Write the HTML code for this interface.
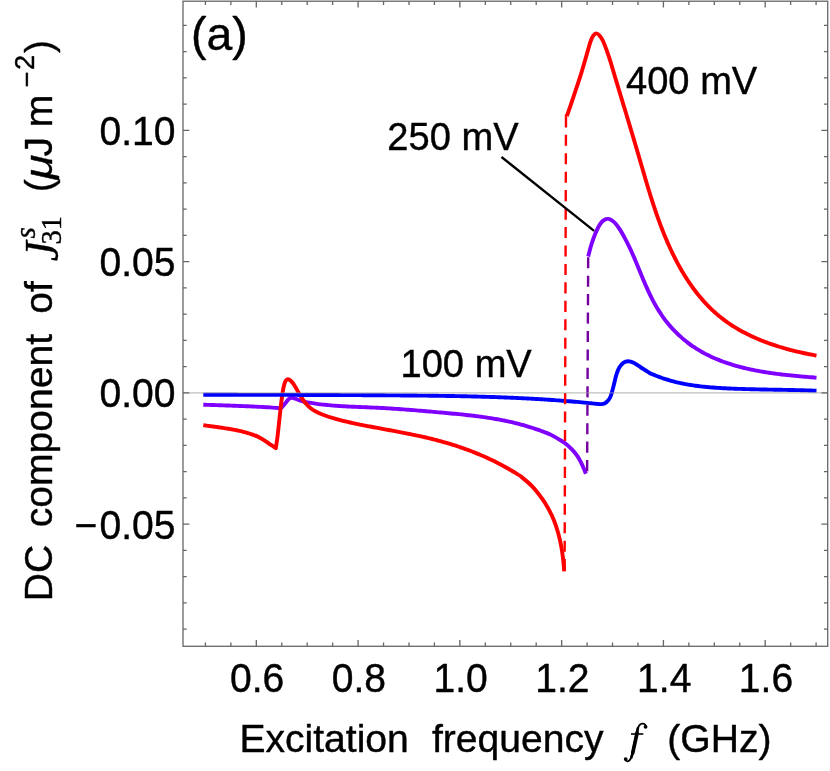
<!DOCTYPE html>
<html><head><meta charset="utf-8"><title>chart</title>
<style>html,body{margin:0;padding:0;background:#fff;}svg{display:block;}text{font-family:"Liberation Sans",sans-serif;fill:#000;stroke:#000;stroke-width:0.4px;stroke-linejoin:round;}.se{font-family:"Liberation Serif",serif;}</style></head><body>
<svg width="830" height="771" viewBox="0 0 830 771">
<rect width="830" height="771" fill="#fff"/>
<g style="will-change:transform">
<path d="M203.30 404.70 C203.73 404.71 205.01 404.76 205.87 404.78 C206.72 404.81 207.58 404.84 208.43 404.87 C209.29 404.90 210.14 404.92 211.00 404.95 C211.85 404.98 212.71 405.01 213.56 405.04 C214.42 405.06 215.28 405.09 216.13 405.12 C216.99 405.15 217.84 405.18 218.70 405.21 C219.55 405.23 220.41 405.26 221.26 405.29 C222.12 405.32 222.97 405.35 223.83 405.38 C224.68 405.41 225.54 405.44 226.40 405.47 C227.25 405.50 228.11 405.53 228.96 405.56 C229.82 405.59 230.67 405.62 231.53 405.65 C232.38 405.68 233.24 405.71 234.09 405.74 C234.95 405.77 235.80 405.80 236.66 405.84 C237.51 405.87 238.37 405.90 239.22 405.93 C240.08 405.97 240.94 406.00 241.79 406.04 C242.65 406.07 243.50 406.10 244.36 406.14 C245.21 406.18 246.07 406.21 246.92 406.25 C247.78 406.28 248.63 406.32 249.49 406.36 C250.34 406.40 251.20 406.43 252.05 406.47 C252.91 406.51 253.76 406.55 254.62 406.59 C255.47 406.63 256.33 406.67 257.18 406.71 C258.04 406.76 258.89 406.80 259.74 406.84 C260.60 406.88 261.45 406.93 262.31 406.97 C263.16 407.02 264.02 407.06 264.87 407.11 C265.73 407.16 266.58 407.20 267.44 407.25 C268.29 407.30 268.24 407.28 270.00 407.40 C271.76 407.52 276.08 407.97 278.00 408.00 C279.92 408.03 280.22 408.47 281.50 407.60 C282.78 406.73 284.53 404.20 285.70 402.80 C286.87 401.40 287.55 400.05 288.50 399.20 C289.45 398.35 290.40 397.83 291.40 397.70 C292.40 397.57 293.15 397.97 294.50 398.40 C295.85 398.83 297.07 399.58 299.50 400.30 C301.93 401.02 305.52 402.02 309.10 402.70 C312.68 403.38 318.60 404.07 321.00 404.40 C323.40 404.73 322.65 404.59 323.48 404.68 C324.31 404.76 325.13 404.85 325.96 404.93 C326.79 405.01 327.61 405.09 328.44 405.17 C329.27 405.25 330.10 405.32 330.93 405.39 C331.75 405.46 332.58 405.53 333.41 405.59 C334.24 405.66 335.07 405.72 335.90 405.78 C336.73 405.84 337.56 405.89 338.39 405.95 C339.22 406.00 340.05 406.06 340.88 406.11 C341.71 406.16 342.54 406.21 343.38 406.25 C344.21 406.30 345.04 406.35 345.87 406.39 C346.70 406.44 347.54 406.48 348.37 406.52 C349.20 406.56 350.04 406.60 350.87 406.64 C351.70 406.68 352.54 406.71 353.37 406.75 C354.20 406.79 355.04 406.82 355.87 406.86 C356.71 406.89 357.54 406.93 358.38 406.96 C359.21 407.00 360.05 407.03 360.88 407.06 C361.72 407.10 362.55 407.13 363.39 407.16 C364.22 407.20 365.06 407.23 365.90 407.26 C366.73 407.30 367.57 407.33 368.40 407.37 C369.24 407.40 370.08 407.43 370.91 407.47 C371.75 407.51 372.59 407.54 373.42 407.58 C374.26 407.61 375.10 407.65 375.94 407.69 C376.77 407.73 377.61 407.77 378.45 407.81 C379.29 407.85 380.12 407.89 380.96 407.94 C381.80 407.98 382.64 408.03 383.47 408.07 C384.31 408.12 385.15 408.17 385.99 408.22 C386.82 408.26 387.66 408.31 388.50 408.37 C389.34 408.42 390.18 408.47 391.02 408.52 C391.85 408.58 392.69 408.63 393.53 408.69 C394.37 408.74 395.21 408.80 396.04 408.85 C396.88 408.91 397.72 408.97 398.56 409.03 C399.40 409.09 400.24 409.15 401.07 409.21 C401.91 409.27 402.75 409.33 403.59 409.40 C404.43 409.46 405.27 409.52 406.10 409.59 C406.94 409.65 407.78 409.72 408.62 409.78 C409.46 409.85 410.29 409.91 411.13 409.98 C411.97 410.05 412.81 410.11 413.64 410.18 C414.48 410.25 415.32 410.32 416.16 410.39 C416.99 410.46 417.83 410.53 418.67 410.60 C419.51 410.67 420.34 410.74 421.18 410.81 C422.02 410.88 422.85 410.95 423.69 411.02 C424.53 411.09 425.37 411.17 426.20 411.24 C427.04 411.31 427.87 411.38 428.71 411.46 C429.55 411.53 430.38 411.60 431.22 411.67 C432.05 411.75 432.89 411.82 433.73 411.89 C434.56 411.97 435.40 412.04 436.23 412.11 C437.07 412.19 437.90 412.26 438.73 412.33 C439.57 412.41 440.40 412.48 441.24 412.56 C442.07 412.63 442.91 412.70 443.74 412.78 C444.57 412.85 445.41 412.93 446.24 413.00 C447.07 413.08 447.91 413.15 448.74 413.23 C449.57 413.30 450.40 413.38 451.23 413.46 C452.07 413.53 452.90 413.61 453.73 413.69 C454.56 413.77 455.39 413.85 456.22 413.93 C457.05 414.01 457.88 414.09 458.71 414.17 C459.54 414.26 460.37 414.34 461.20 414.42 C462.03 414.51 462.86 414.59 463.69 414.68 C464.52 414.77 465.35 414.86 466.17 414.95 C467.00 415.04 467.83 415.13 468.66 415.22 C469.48 415.31 470.31 415.41 471.14 415.50 C471.96 415.60 472.79 415.70 473.61 415.80 C474.44 415.90 475.26 416.00 476.09 416.10 C476.91 416.21 477.74 416.31 478.56 416.42 C479.39 416.52 480.21 416.63 481.03 416.75 C481.85 416.86 482.68 416.97 483.50 417.09 C484.32 417.20 485.14 417.32 485.96 417.44 C486.78 417.56 487.60 417.68 488.42 417.81 C489.24 417.93 490.06 418.06 490.88 418.19 C491.70 418.32 492.52 418.46 493.34 418.59 C494.16 418.73 494.97 418.87 495.79 419.01 C496.61 419.15 497.42 419.30 498.24 419.44 C499.05 419.59 499.87 419.74 500.68 419.90 C501.50 420.05 502.31 420.21 503.12 420.37 C503.94 420.53 504.75 420.69 505.56 420.86 C506.38 421.02 507.19 421.20 508.00 421.37 C508.81 421.54 509.62 421.72 510.43 421.90 C511.24 422.08 512.05 422.27 512.86 422.46 C513.66 422.64 514.47 422.84 515.28 423.03 C516.09 423.23 516.89 423.43 517.70 423.63 C518.50 423.84 519.31 424.04 520.11 424.26 C520.92 424.47 521.72 424.68 522.52 424.90 C523.33 425.13 524.13 425.35 524.93 425.58 C525.73 425.81 526.53 426.04 527.33 426.28 C528.13 426.52 528.93 426.76 529.73 427.01 C530.53 427.25 531.33 427.51 532.13 427.76 C532.92 428.02 533.72 428.28 534.52 428.55 C535.31 428.81 536.11 429.08 536.90 429.36 C537.70 429.64 538.49 429.92 539.28 430.20 C540.07 430.49 540.87 430.78 541.66 431.08 C542.45 431.37 543.24 431.68 544.03 431.98 C544.82 432.29 545.60 432.60 546.39 432.92 C547.18 433.24 547.97 433.56 548.75 433.89 C549.54 434.22 549.33 433.95 551.10 434.90 C552.87 435.85 556.97 438.13 559.40 439.60 C561.83 441.07 563.62 442.07 565.70 443.70 C567.78 445.33 570.00 447.40 571.90 449.40 C573.80 451.40 575.55 453.45 577.10 455.70 C578.65 457.95 580.00 460.57 581.20 462.90 C582.40 465.23 583.52 467.88 584.30 469.70 C585.08 471.52 585.63 473.12 585.90 473.80" fill="none" stroke="#7f00ff" stroke-width="3.90" stroke-linejoin="round" />
<path d="M588.20 256.60 C588.63 254.92 589.85 249.73 590.80 246.50 C591.75 243.27 592.87 239.97 593.90 237.20 C594.93 234.43 595.97 232.07 597.00 229.90 C598.03 227.73 599.07 225.75 600.10 224.20 C601.13 222.65 601.98 221.48 603.20 220.60 C604.42 219.72 606.02 218.98 607.40 218.90 C608.78 218.82 610.12 219.30 611.50 220.10 C612.88 220.90 614.32 222.15 615.70 223.70 C617.08 225.25 618.42 227.25 619.80 229.40 C621.18 231.55 623.10 235.03 624.00 236.60 C624.90 238.17 624.82 238.08 625.22 238.82 C625.62 239.56 626.01 240.31 626.40 241.06 C626.79 241.81 627.17 242.56 627.55 243.31 C627.93 244.06 628.30 244.82 628.67 245.58 C629.04 246.33 629.40 247.09 629.76 247.85 C630.12 248.61 630.47 249.38 630.82 250.14 C631.18 250.90 631.52 251.67 631.87 252.44 C632.21 253.20 632.55 253.97 632.89 254.74 C633.23 255.51 633.56 256.28 633.90 257.05 C634.23 257.82 634.56 258.59 634.89 259.37 C635.21 260.14 635.54 260.91 635.86 261.69 C636.19 262.46 636.51 263.24 636.83 264.01 C637.15 264.78 637.47 265.56 637.79 266.33 C638.11 267.11 638.43 267.89 638.74 268.66 C639.06 269.44 639.38 270.21 639.70 270.99 C640.01 271.76 640.33 272.53 640.65 273.31 C640.97 274.08 641.28 274.86 641.60 275.63 C641.92 276.40 642.24 277.17 642.56 277.94 C642.88 278.72 643.20 279.49 643.53 280.26 C643.85 281.02 644.18 281.79 644.50 282.56 C644.83 283.33 645.16 284.09 645.49 284.86 C645.83 285.62 646.16 286.38 646.50 287.14 C646.84 287.90 647.18 288.66 647.52 289.42 C647.86 290.18 648.21 290.93 648.56 291.68 C648.91 292.44 649.27 293.19 649.63 293.94 C649.99 294.69 650.35 295.43 650.72 296.18 C651.09 296.92 651.46 297.66 651.83 298.40 C652.21 299.14 652.59 299.87 652.98 300.61 C653.37 301.34 653.76 302.07 654.16 302.80 C654.56 303.52 654.96 304.25 655.37 304.97 C655.78 305.69 656.19 306.41 656.61 307.12 C657.03 307.83 657.46 308.54 657.89 309.25 C658.32 309.96 658.76 310.66 659.20 311.36 C659.65 312.06 660.10 312.75 660.56 313.44 C661.01 314.13 661.48 314.82 661.94 315.50 C662.41 316.19 662.89 316.86 663.37 317.54 C663.86 318.21 664.35 318.88 664.84 319.54 C665.34 320.21 665.85 320.87 666.36 321.52 C666.87 322.18 667.39 322.83 667.91 323.47 C668.44 324.12 668.97 324.76 669.51 325.39 C670.05 326.02 670.60 326.65 671.16 327.28 C671.71 327.90 672.28 328.52 672.85 329.13 C673.42 329.74 673.99 330.35 674.57 330.95 C675.16 331.55 675.75 332.14 676.34 332.73 C676.94 333.32 677.54 333.90 678.15 334.48 C678.76 335.05 679.37 335.62 679.99 336.19 C680.61 336.75 681.24 337.31 681.87 337.86 C682.50 338.41 683.14 338.95 683.78 339.48 C684.42 340.02 685.07 340.55 685.73 341.07 C686.38 341.59 687.04 342.11 687.70 342.62 C688.36 343.12 689.03 343.62 689.71 344.12 C690.38 344.61 691.06 345.09 691.74 345.57 C692.42 346.05 693.11 346.52 693.80 346.98 C694.49 347.44 695.18 347.90 695.88 348.35 C696.58 348.79 697.29 349.23 697.99 349.66 C698.70 350.10 699.41 350.52 700.13 350.94 C700.84 351.36 701.56 351.77 702.29 352.17 C703.01 352.58 703.74 352.97 704.47 353.36 C705.20 353.75 705.93 354.14 706.67 354.51 C707.41 354.89 708.15 355.26 708.89 355.62 C709.64 355.98 710.39 356.34 711.14 356.69 C711.89 357.04 712.64 357.38 713.40 357.72 C714.16 358.06 714.92 358.39 715.69 358.72 C716.45 359.04 717.22 359.36 717.99 359.67 C718.76 359.98 719.53 360.29 720.31 360.59 C721.08 360.89 721.86 361.19 722.64 361.48 C723.43 361.77 724.21 362.05 725.00 362.33 C725.78 362.61 726.57 362.88 727.36 363.15 C728.16 363.41 728.95 363.68 729.75 363.93 C730.54 364.19 731.34 364.44 732.14 364.69 C732.94 364.93 733.75 365.17 734.55 365.41 C735.36 365.64 736.16 365.87 736.97 366.10 C737.78 366.33 738.59 366.55 739.41 366.76 C740.22 366.98 741.03 367.19 741.85 367.40 C742.67 367.61 743.48 367.81 744.30 368.01 C745.12 368.21 745.94 368.40 746.77 368.59 C747.59 368.78 748.41 368.97 749.24 369.15 C750.06 369.33 750.89 369.51 751.72 369.68 C752.55 369.85 753.37 370.02 754.20 370.19 C755.03 370.35 755.87 370.52 756.70 370.67 C757.53 370.83 758.36 370.99 759.20 371.14 C760.03 371.29 760.87 371.43 761.70 371.58 C762.54 371.72 763.37 371.86 764.21 372.00 C765.04 372.14 765.88 372.27 766.72 372.40 C767.56 372.53 768.39 372.66 769.23 372.79 C770.07 372.91 770.91 373.03 771.75 373.15 C772.59 373.27 773.43 373.39 774.26 373.50 C775.10 373.61 775.94 373.72 776.78 373.83 C777.62 373.94 778.46 374.05 779.30 374.15 C780.14 374.25 780.98 374.36 781.81 374.45 C782.65 374.55 783.49 374.65 784.33 374.75 C785.17 374.84 786.00 374.93 786.84 375.02 C787.68 375.11 788.51 375.20 789.35 375.29 C790.18 375.38 791.02 375.46 791.85 375.54 C792.68 375.63 793.52 375.71 794.35 375.79 C795.18 375.87 796.01 375.95 796.84 376.03 C797.67 376.10 798.50 376.18 799.33 376.25 C800.16 376.33 800.98 376.40 801.81 376.48 C802.63 376.55 803.46 376.62 804.28 376.69 C805.10 376.76 805.92 376.83 806.74 376.90 C807.56 376.97 808.38 377.04 809.20 377.10 C810.01 377.17 810.83 377.24 811.64 377.30 C812.45 377.37 813.26 377.44 814.07 377.50 C814.88 377.57 816.09 377.66 816.49 377.70" fill="none" stroke="#7f00ff" stroke-width="3.90" stroke-linejoin="round" />
<path d="M203.30 425.20 C203.72 425.26 204.96 425.43 205.79 425.54 C206.62 425.66 207.45 425.77 208.29 425.88 C209.12 425.99 209.95 426.10 210.79 426.22 C211.62 426.33 212.46 426.44 213.29 426.55 C214.13 426.66 214.96 426.77 215.80 426.88 C216.63 427.00 217.47 427.11 218.30 427.23 C219.14 427.34 219.97 427.46 220.80 427.58 C221.64 427.70 222.47 427.82 223.31 427.94 C224.14 428.07 224.97 428.19 225.81 428.33 C226.64 428.46 227.47 428.59 228.30 428.73 C229.13 428.87 229.96 429.01 230.79 429.16 C231.62 429.30 232.45 429.46 233.28 429.61 C234.10 429.77 234.93 429.93 235.75 430.10 C236.58 430.27 237.40 430.44 238.22 430.62 C239.04 430.80 239.86 430.99 240.68 431.19 C241.49 431.38 242.31 431.58 243.12 431.79 C243.94 432.00 244.75 432.21 245.56 432.44 C246.37 432.66 247.17 432.90 247.98 433.14 C248.78 433.38 249.58 433.63 250.38 433.89 C251.18 434.15 251.98 434.42 252.77 434.70 C253.57 434.98 254.36 435.27 255.15 435.57 C255.93 435.87 255.84 435.63 257.50 436.50 C259.16 437.37 262.93 439.43 265.10 440.80 C267.27 442.17 268.72 443.48 270.50 444.70 C272.28 445.92 274.92 447.53 275.80 448.10 L275.80 448.10 C276.08 446.20 276.88 441.63 277.50 436.70 C278.12 431.77 278.85 424.37 279.50 418.50 C280.15 412.63 280.73 406.67 281.40 401.50 C282.07 396.33 282.82 390.88 283.50 387.50 C284.18 384.12 284.77 382.58 285.50 381.20 C286.23 379.82 286.98 379.23 287.90 379.20 C288.82 379.17 289.95 380.03 291.00 381.00 C292.05 381.97 293.12 383.37 294.20 385.00 C295.28 386.63 296.38 388.87 297.50 390.80 C298.62 392.73 299.62 394.60 300.90 396.60 C302.18 398.60 303.67 400.95 305.20 402.80 C306.73 404.65 308.33 406.25 310.10 407.70 C311.87 409.15 313.55 410.28 315.80 411.50 C318.05 412.72 320.70 413.88 323.60 415.00 C326.50 416.12 330.00 417.23 333.20 418.20 C336.40 419.17 340.79 420.27 342.80 420.80 C344.81 421.33 344.44 421.19 345.26 421.38 C346.08 421.57 346.90 421.76 347.72 421.94 C348.54 422.13 349.36 422.31 350.18 422.49 C351.01 422.67 351.83 422.85 352.65 423.03 C353.48 423.21 354.30 423.38 355.12 423.55 C355.95 423.73 356.77 423.90 357.60 424.07 C358.42 424.24 359.25 424.41 360.08 424.58 C360.90 424.75 361.73 424.91 362.56 425.08 C363.38 425.24 364.21 425.40 365.04 425.57 C365.87 425.73 366.70 425.89 367.52 426.05 C368.35 426.21 369.18 426.37 370.01 426.53 C370.84 426.69 371.67 426.85 372.50 427.00 C373.33 427.16 374.16 427.32 374.99 427.47 C375.82 427.63 376.65 427.78 377.48 427.94 C378.31 428.09 379.14 428.25 379.97 428.40 C380.80 428.55 381.64 428.71 382.47 428.86 C383.30 429.01 384.13 429.17 384.96 429.32 C385.79 429.47 386.62 429.63 387.45 429.78 C388.28 429.93 389.12 430.09 389.95 430.24 C390.78 430.40 391.61 430.55 392.44 430.70 C393.27 430.86 394.10 431.01 394.93 431.17 C395.76 431.32 396.60 431.48 397.43 431.64 C398.26 431.79 399.09 431.95 399.92 432.11 C400.75 432.27 401.58 432.43 402.41 432.59 C403.24 432.75 404.07 432.91 404.90 433.07 C405.73 433.23 406.56 433.40 407.38 433.56 C408.21 433.72 409.04 433.89 409.87 434.06 C410.70 434.22 411.53 434.39 412.35 434.56 C413.18 434.73 414.01 434.90 414.84 435.08 C415.66 435.25 416.49 435.43 417.31 435.60 C418.14 435.78 418.97 435.96 419.79 436.14 C420.62 436.32 421.44 436.50 422.26 436.68 C423.09 436.87 423.91 437.06 424.73 437.24 C425.56 437.43 426.38 437.62 427.20 437.82 C428.02 438.01 428.84 438.21 429.66 438.40 C430.48 438.60 431.30 438.80 432.12 439.01 C432.94 439.21 433.76 439.42 434.58 439.62 C435.40 439.83 436.21 440.04 437.03 440.26 C437.85 440.47 438.66 440.69 439.48 440.91 C440.29 441.13 441.10 441.35 441.92 441.58 C442.73 441.81 443.54 442.04 444.35 442.27 C445.16 442.50 445.97 442.73 446.78 442.97 C447.59 443.21 448.40 443.45 449.21 443.69 C450.02 443.94 450.82 444.19 451.63 444.43 C452.43 444.68 453.24 444.94 454.04 445.19 C454.85 445.45 455.65 445.71 456.45 445.97 C457.25 446.23 458.05 446.50 458.85 446.77 C459.65 447.04 460.45 447.31 461.25 447.58 C462.04 447.86 462.84 448.14 463.63 448.42 C464.43 448.70 465.22 448.98 466.01 449.27 C466.81 449.56 467.60 449.85 468.39 450.14 C469.18 450.44 469.97 450.74 470.75 451.04 C471.54 451.34 472.33 451.64 473.11 451.95 C473.89 452.26 474.68 452.57 475.46 452.88 C476.24 453.20 477.02 453.52 477.80 453.84 C478.58 454.16 479.36 454.48 480.13 454.81 C480.91 455.14 481.68 455.47 482.46 455.81 C483.23 456.14 484.00 456.48 484.77 456.82 C485.54 457.17 486.31 457.51 487.08 457.86 C487.85 458.21 488.61 458.56 489.38 458.92 C490.14 459.28 490.90 459.64 491.66 460.00 C492.42 460.36 493.18 460.73 493.94 461.10 C494.70 461.47 495.45 461.85 496.21 462.23 C496.96 462.60 497.71 462.99 498.46 463.37 C499.21 463.76 499.96 464.15 500.71 464.54 C501.45 464.93 502.20 465.33 502.94 465.73 C503.69 466.13 504.43 466.54 505.17 466.95 C505.91 467.35 506.64 467.77 507.38 468.18 C508.11 468.60 508.85 469.02 509.58 469.44 C510.31 469.87 511.04 470.29 511.77 470.73 C512.50 471.16 513.22 471.59 513.95 472.03 C514.67 472.47 515.39 472.92 516.11 473.36 C516.83 473.81 517.55 474.26 518.26 474.72 C518.98 475.18 518.08 474.17 520.40 476.10 C522.72 478.03 528.55 482.50 532.20 486.30 C535.85 490.10 539.50 494.97 542.30 498.90 C545.10 502.83 547.03 506.25 549.00 509.90 C550.97 513.55 552.55 516.87 554.10 520.80 C555.65 524.73 557.12 529.28 558.30 533.50 C559.48 537.72 560.42 542.03 561.20 546.10 C561.98 550.17 562.50 553.70 563.00 557.90 C563.50 562.10 564.00 569.07 564.20 571.30" fill="none" stroke="#ff0000" stroke-width="3.90" stroke-linejoin="round" />
<path d="M566.90 116.00 C567.52 114.23 569.12 109.75 570.60 105.40 C572.08 101.05 574.08 95.08 575.80 89.90 C577.52 84.72 579.40 79.07 580.90 74.30 C582.40 69.53 583.60 65.42 584.80 61.30 C586.00 57.18 587.12 52.98 588.10 49.60 C589.08 46.22 589.83 43.32 590.70 41.00 C591.57 38.68 592.38 36.97 593.30 35.70 C594.22 34.43 595.17 33.43 596.20 33.40 C597.23 33.37 598.37 34.23 599.50 35.50 C600.63 36.77 601.77 38.43 603.00 41.00 C604.23 43.57 605.60 47.30 606.90 50.90 C608.20 54.50 610.03 60.26 610.80 62.60 C611.57 64.94 611.26 64.18 611.50 64.97 C611.73 65.76 611.96 66.55 612.20 67.34 C612.43 68.12 612.66 68.91 612.90 69.71 C613.13 70.50 613.37 71.29 613.60 72.08 C613.84 72.87 614.07 73.66 614.31 74.45 C614.54 75.25 614.78 76.04 615.02 76.83 C615.25 77.63 615.49 78.42 615.73 79.21 C615.97 80.01 616.21 80.80 616.44 81.60 C616.68 82.39 616.92 83.19 617.16 83.99 C617.40 84.78 617.64 85.58 617.88 86.38 C618.12 87.17 618.36 87.97 618.60 88.77 C618.84 89.57 619.08 90.37 619.32 91.16 C619.56 91.96 619.80 92.76 620.04 93.56 C620.28 94.36 620.52 95.16 620.77 95.96 C621.01 96.76 621.25 97.56 621.49 98.36 C621.73 99.16 621.98 99.96 622.22 100.76 C622.46 101.56 622.70 102.37 622.94 103.17 C623.19 103.97 623.43 104.77 623.67 105.57 C623.91 106.38 624.16 107.18 624.40 107.98 C624.64 108.78 624.89 109.59 625.13 110.39 C625.37 111.19 625.61 112.00 625.86 112.80 C626.10 113.60 626.34 114.41 626.59 115.21 C626.83 116.02 627.07 116.82 627.31 117.63 C627.56 118.43 627.80 119.23 628.04 120.04 C628.28 120.84 628.53 121.65 628.77 122.45 C629.01 123.26 629.25 124.06 629.50 124.87 C629.74 125.67 629.98 126.48 630.22 127.28 C630.47 128.09 630.71 128.89 630.95 129.70 C631.19 130.51 631.43 131.31 631.67 132.12 C631.92 132.92 632.16 133.73 632.40 134.53 C632.64 135.34 632.88 136.14 633.12 136.95 C633.36 137.76 633.60 138.56 633.84 139.37 C634.08 140.17 634.32 140.98 634.56 141.78 C634.80 142.59 635.04 143.39 635.28 144.20 C635.51 145.00 635.75 145.81 635.99 146.62 C636.23 147.42 636.47 148.23 636.70 149.03 C636.94 149.84 637.18 150.64 637.41 151.45 C637.65 152.25 637.89 153.06 638.12 153.86 C638.36 154.67 638.59 155.47 638.83 156.27 C639.06 157.08 639.30 157.88 639.53 158.69 C639.77 159.49 640.00 160.29 640.23 161.10 C640.47 161.90 640.70 162.71 640.93 163.51 C641.17 164.31 641.40 165.11 641.63 165.92 C641.87 166.72 642.10 167.52 642.33 168.33 C642.57 169.13 642.80 169.93 643.03 170.73 C643.27 171.53 643.50 172.33 643.74 173.14 C643.97 173.94 644.20 174.74 644.44 175.54 C644.67 176.34 644.91 177.14 645.14 177.94 C645.38 178.74 645.62 179.54 645.85 180.34 C646.09 181.14 646.33 181.94 646.56 182.74 C646.80 183.53 647.04 184.33 647.28 185.13 C647.52 185.93 647.76 186.73 648.00 187.52 C648.24 188.32 648.48 189.12 648.73 189.91 C648.97 190.71 649.21 191.50 649.46 192.30 C649.70 193.10 649.95 193.89 650.20 194.68 C650.44 195.48 650.69 196.27 650.94 197.07 C651.19 197.86 651.44 198.65 651.69 199.45 C651.95 200.24 652.20 201.03 652.45 201.82 C652.71 202.61 652.97 203.40 653.22 204.19 C653.48 204.98 653.74 205.77 654.00 206.56 C654.26 207.35 654.53 208.14 654.79 208.93 C655.06 209.72 655.32 210.51 655.59 211.29 C655.86 212.08 656.13 212.87 656.40 213.65 C656.67 214.44 656.95 215.22 657.22 216.01 C657.50 216.79 657.78 217.58 658.06 218.36 C658.34 219.14 658.62 219.92 658.90 220.71 C659.19 221.49 659.48 222.27 659.77 223.05 C660.05 223.83 660.35 224.61 660.64 225.39 C660.93 226.17 661.23 226.95 661.53 227.72 C661.83 228.50 662.13 229.28 662.43 230.05 C662.74 230.83 663.04 231.61 663.35 232.38 C663.66 233.16 663.97 233.93 664.29 234.70 C664.60 235.48 664.92 236.25 665.24 237.02 C665.56 237.79 665.89 238.56 666.21 239.33 C666.54 240.10 666.87 240.87 667.20 241.64 C667.53 242.41 667.87 243.17 668.21 243.94 C668.55 244.71 668.89 245.47 669.24 246.24 C669.58 247.00 669.93 247.76 670.28 248.53 C670.63 249.29 670.99 250.05 671.35 250.81 C671.71 251.57 672.07 252.33 672.44 253.09 C672.80 253.85 673.17 254.60 673.54 255.36 C673.92 256.11 674.29 256.87 674.67 257.62 C675.05 258.37 675.44 259.12 675.82 259.87 C676.21 260.61 676.60 261.36 676.99 262.10 C677.39 262.85 677.79 263.59 678.19 264.33 C678.59 265.07 678.99 265.81 679.40 266.54 C679.81 267.28 680.23 268.01 680.64 268.74 C681.06 269.47 681.48 270.20 681.90 270.93 C682.33 271.65 682.75 272.37 683.19 273.09 C683.62 273.81 684.05 274.53 684.49 275.25 C684.93 275.96 685.38 276.67 685.82 277.38 C686.27 278.09 686.72 278.79 687.18 279.49 C687.63 280.19 688.09 280.89 688.56 281.59 C689.02 282.28 689.49 282.97 689.96 283.66 C690.43 284.35 690.91 285.03 691.39 285.71 C691.87 286.39 692.35 287.07 692.84 287.74 C693.33 288.41 693.82 289.08 694.32 289.74 C694.82 290.41 695.32 291.07 695.83 291.72 C696.33 292.38 696.84 293.03 697.36 293.68 C697.87 294.32 698.39 294.97 698.91 295.61 C699.44 296.24 699.96 296.88 700.49 297.51 C701.03 298.14 701.56 298.76 702.10 299.38 C702.65 300.01 703.19 300.62 703.74 301.23 C704.29 301.84 704.85 302.45 705.41 303.05 C705.96 303.66 706.53 304.25 707.10 304.85 C707.67 305.44 708.24 306.03 708.82 306.61 C709.39 307.19 709.98 307.77 710.56 308.34 C711.15 308.92 711.74 309.48 712.34 310.05 C712.94 310.61 713.54 311.17 714.15 311.72 C714.75 312.27 715.36 312.82 715.98 313.36 C716.60 313.90 717.22 314.44 717.84 314.97 C718.47 315.50 719.10 316.03 719.74 316.55 C720.37 317.07 721.02 317.58 721.66 318.09 C722.31 318.60 722.96 319.11 723.62 319.60 C724.27 320.10 724.93 320.60 725.60 321.08 C726.27 321.57 726.94 322.05 727.62 322.52 C728.29 323.00 728.97 323.47 729.66 323.93 C730.35 324.40 731.04 324.85 731.74 325.31 C732.43 325.76 733.13 326.20 733.84 326.64 C734.54 327.09 735.25 327.52 735.97 327.95 C736.68 328.38 737.40 328.81 738.13 329.22 C738.85 329.64 739.58 330.06 740.31 330.46 C741.04 330.87 741.77 331.28 742.51 331.67 C743.25 332.07 743.99 332.46 744.74 332.85 C745.48 333.24 746.23 333.62 746.99 334.00 C747.74 334.37 748.50 334.74 749.26 335.11 C750.02 335.48 750.78 335.84 751.54 336.20 C752.31 336.55 753.08 336.90 753.85 337.25 C754.62 337.60 755.40 337.94 756.17 338.28 C756.95 338.61 757.73 338.94 758.51 339.27 C759.30 339.60 760.08 339.92 760.87 340.24 C761.65 340.56 762.44 340.87 763.23 341.18 C764.03 341.49 764.82 341.79 765.62 342.09 C766.41 342.39 767.21 342.68 768.01 342.97 C768.81 343.26 769.61 343.55 770.41 343.83 C771.21 344.11 772.01 344.39 772.82 344.66 C773.62 344.93 774.43 345.20 775.24 345.47 C776.05 345.73 776.85 345.99 777.66 346.25 C778.47 346.50 779.28 346.75 780.10 347.00 C780.91 347.25 781.72 347.49 782.53 347.73 C783.34 347.97 784.16 348.20 784.97 348.43 C785.79 348.67 786.60 348.89 787.41 349.12 C788.23 349.34 789.04 349.56 789.86 349.77 C790.67 349.99 791.49 350.20 792.30 350.41 C793.11 350.62 793.93 350.82 794.74 351.02 C795.56 351.22 796.37 351.42 797.18 351.61 C798.00 351.80 798.81 351.99 799.62 352.18 C800.43 352.36 801.24 352.55 802.05 352.73 C802.86 352.91 803.67 353.08 804.48 353.25 C805.29 353.42 806.10 353.59 806.90 353.76 C807.71 353.92 808.51 354.09 809.32 354.24 C810.12 354.40 810.92 354.56 811.72 354.71 C812.52 354.86 813.32 355.01 814.12 355.16 C814.91 355.30 816.10 355.52 816.50 355.59" fill="none" stroke="#ff0000" stroke-width="3.90" stroke-linejoin="round" />
<path d="M203.30 394.80 C203.72 394.80 204.97 394.80 205.81 394.80 C206.64 394.80 207.48 394.80 208.32 394.80 C209.15 394.80 209.99 394.80 210.82 394.80 C211.66 394.80 212.49 394.80 213.33 394.80 C214.17 394.80 215.00 394.81 215.84 394.81 C216.67 394.81 217.51 394.81 218.35 394.81 C219.18 394.81 220.02 394.81 220.85 394.81 C221.69 394.81 222.53 394.81 223.36 394.81 C224.20 394.81 225.03 394.81 225.87 394.81 C226.71 394.82 227.54 394.82 228.38 394.82 C229.21 394.82 230.05 394.82 230.89 394.82 C231.72 394.82 232.56 394.82 233.39 394.82 C234.23 394.82 235.07 394.82 235.90 394.82 C236.74 394.82 237.58 394.83 238.41 394.83 C239.25 394.83 240.08 394.83 240.92 394.83 C241.76 394.83 242.59 394.83 243.43 394.83 C244.27 394.83 245.10 394.83 245.94 394.84 C246.77 394.84 247.61 394.84 248.45 394.84 C249.28 394.84 250.12 394.84 250.96 394.84 C251.79 394.84 252.63 394.84 253.47 394.84 C254.30 394.85 255.14 394.85 255.97 394.85 C256.81 394.85 257.65 394.85 258.48 394.85 C259.32 394.85 260.16 394.85 260.99 394.86 C261.83 394.86 262.67 394.86 263.50 394.86 C264.34 394.86 265.18 394.86 266.01 394.86 C266.85 394.86 267.69 394.87 268.52 394.87 C269.36 394.87 270.19 394.87 271.03 394.87 C271.87 394.87 272.70 394.87 273.54 394.88 C274.38 394.88 275.21 394.88 276.05 394.88 C276.89 394.88 277.72 394.88 278.56 394.89 C279.40 394.89 280.23 394.89 281.07 394.89 C281.91 394.89 282.74 394.89 283.58 394.90 C284.42 394.90 285.25 394.90 286.09 394.90 C286.93 394.90 287.76 394.90 288.60 394.91 C289.44 394.91 290.27 394.91 291.11 394.91 C291.95 394.91 292.79 394.92 293.62 394.92 C294.46 394.92 295.30 394.92 296.13 394.92 C296.97 394.93 297.81 394.93 298.64 394.93 C299.48 394.93 300.32 394.93 301.15 394.94 C301.99 394.94 302.83 394.94 303.66 394.94 C304.50 394.95 305.34 394.95 306.17 394.95 C307.01 394.95 307.85 394.96 308.68 394.96 C309.52 394.96 310.36 394.96 311.19 394.97 C312.03 394.97 312.87 394.97 313.71 394.97 C314.54 394.98 315.38 394.98 316.22 394.98 C317.05 394.98 317.89 394.99 318.73 394.99 C319.56 394.99 320.40 395.00 321.24 395.00 C322.07 395.00 322.91 395.00 323.75 395.01 C324.58 395.01 325.42 395.01 326.26 395.02 C327.10 395.02 327.93 395.02 328.77 395.03 C329.61 395.03 330.44 395.03 331.28 395.04 C332.12 395.04 332.95 395.04 333.79 395.05 C334.63 395.05 335.46 395.05 336.30 395.06 C337.14 395.06 337.98 395.06 338.81 395.07 C339.65 395.07 340.49 395.07 341.32 395.08 C342.16 395.08 343.00 395.08 343.83 395.09 C344.67 395.09 345.51 395.10 346.34 395.10 C347.18 395.10 348.02 395.11 348.86 395.11 C349.69 395.11 350.53 395.12 351.37 395.12 C352.20 395.13 353.04 395.13 353.88 395.14 C354.71 395.14 355.55 395.14 356.39 395.15 C357.22 395.15 358.06 395.16 358.90 395.16 C359.73 395.17 360.57 395.17 361.41 395.17 C362.25 395.18 363.08 395.18 363.92 395.19 C364.76 395.19 365.59 395.20 366.43 395.20 C367.27 395.21 368.10 395.21 368.94 395.22 C369.78 395.22 370.61 395.23 371.45 395.23 C372.29 395.24 373.13 395.24 373.96 395.25 C374.80 395.25 375.64 395.26 376.47 395.26 C377.31 395.27 378.15 395.27 378.98 395.28 C379.82 395.28 380.66 395.29 381.49 395.29 C382.33 395.30 383.17 395.31 384.00 395.31 C384.84 395.32 385.68 395.32 386.51 395.33 C387.35 395.33 388.19 395.34 389.02 395.35 C389.86 395.35 390.70 395.36 391.53 395.36 C392.37 395.37 393.21 395.38 394.05 395.38 C394.88 395.39 395.72 395.39 396.56 395.40 C397.39 395.41 398.23 395.41 399.07 395.42 C399.90 395.43 400.74 395.43 401.58 395.44 C402.41 395.45 403.25 395.45 404.09 395.46 C404.92 395.47 405.76 395.47 406.60 395.48 C407.43 395.49 408.27 395.49 409.11 395.50 C409.94 395.51 410.78 395.52 411.62 395.52 C412.45 395.53 413.29 395.54 414.13 395.55 C414.96 395.55 415.80 395.56 416.64 395.57 C417.47 395.58 418.31 395.58 419.14 395.59 C419.98 395.60 420.82 395.61 421.65 395.62 C422.49 395.63 423.33 395.64 424.16 395.64 C425.00 395.65 425.84 395.66 426.67 395.67 C427.51 395.68 428.35 395.69 429.18 395.70 C430.02 395.71 430.86 395.72 431.69 395.73 C432.53 395.74 433.36 395.75 434.20 395.76 C435.04 395.77 435.87 395.78 436.71 395.79 C437.55 395.80 438.38 395.82 439.22 395.83 C440.06 395.84 440.89 395.85 441.73 395.86 C442.56 395.87 443.40 395.89 444.24 395.90 C445.07 395.91 445.91 395.92 446.75 395.94 C447.58 395.95 448.42 395.96 449.25 395.98 C450.09 395.99 450.93 396.01 451.76 396.02 C452.60 396.03 453.44 396.05 454.27 396.06 C455.11 396.08 455.94 396.09 456.78 396.11 C457.62 396.12 458.45 396.14 459.29 396.16 C460.12 396.17 460.96 396.19 461.80 396.21 C462.63 396.22 463.47 396.24 464.30 396.26 C465.14 396.28 465.98 396.29 466.81 396.31 C467.65 396.33 468.48 396.35 469.32 396.37 C470.16 396.39 470.99 396.41 471.83 396.43 C472.66 396.45 473.50 396.47 474.34 396.49 C475.17 396.51 476.01 396.53 476.84 396.55 C477.68 396.57 478.51 396.60 479.35 396.62 C480.19 396.64 481.02 396.66 481.86 396.69 C482.69 396.71 483.53 396.74 484.36 396.76 C485.20 396.78 486.04 396.81 486.87 396.83 C487.71 396.86 488.54 396.88 489.38 396.91 C490.21 396.94 491.05 396.96 491.88 396.99 C492.72 397.02 493.55 397.05 494.39 397.07 C495.23 397.10 496.06 397.13 496.90 397.16 C497.73 397.19 498.57 397.22 499.40 397.25 C500.24 397.28 501.07 397.31 501.91 397.34 C502.74 397.37 503.58 397.40 504.41 397.44 C505.25 397.47 506.09 397.50 506.92 397.54 C507.76 397.57 508.59 397.60 509.43 397.64 C510.26 397.67 511.10 397.71 511.93 397.74 C512.77 397.78 513.60 397.82 514.44 397.85 C515.27 397.89 516.11 397.93 516.94 397.97 C517.78 398.00 518.61 398.04 519.45 398.08 C520.28 398.12 521.12 398.16 521.95 398.20 C522.79 398.24 523.62 398.28 524.46 398.33 C525.29 398.37 526.13 398.41 526.96 398.45 C527.79 398.50 528.63 398.54 529.46 398.59 C530.30 398.63 531.13 398.68 531.97 398.72 C532.80 398.77 533.64 398.81 534.47 398.86 C535.31 398.91 536.14 398.96 536.98 399.01 C537.81 399.05 538.64 399.10 539.48 399.15 C540.31 399.20 541.15 399.25 541.98 399.31 C542.82 399.36 543.65 399.41 544.49 399.46 C545.32 399.52 546.15 399.57 546.99 399.62 C547.82 399.68 548.66 399.73 549.49 399.79 C550.33 399.85 551.16 399.90 551.99 399.96 C552.83 400.02 553.66 400.08 554.50 400.14 C555.33 400.19 556.16 400.25 557.00 400.32 C557.83 400.38 558.67 400.44 559.50 400.50 C560.33 400.56 561.17 400.62 562.00 400.69 C562.84 400.75 563.67 400.82 564.50 400.88 C565.34 400.95 566.17 401.02 567.00 401.08 C567.84 401.15 568.67 401.22 569.51 401.29 C570.34 401.36 571.17 401.43 572.01 401.50 C572.84 401.57 573.67 401.64 574.51 401.71 C575.34 401.78 576.17 401.86 577.01 401.93 C577.84 402.00 578.67 402.08 579.51 402.16 C580.34 402.23 581.17 402.31 582.01 402.39 C582.84 402.46 583.67 402.54 584.51 402.62 C585.34 402.70 586.17 402.78 587.01 402.86 C587.84 402.95 588.67 403.03 589.51 403.11 C590.34 403.19 591.17 403.28 592.00 403.36 C592.84 403.45 593.67 403.53 594.50 403.62 C595.34 403.71 595.92 403.82 597.00 403.90 C598.08 403.98 599.67 404.22 601.00 404.10 C602.33 403.98 603.83 403.78 605.00 403.20 C606.17 402.62 607.07 401.73 608.00 400.60 C608.93 399.47 609.68 398.78 610.60 396.40 C611.52 394.02 612.53 389.92 613.50 386.30 C614.47 382.68 615.43 377.83 616.40 374.70 C617.37 371.57 618.10 369.52 619.30 367.50 C620.50 365.48 622.15 363.65 623.60 362.60 C625.05 361.55 626.32 361.17 628.00 361.20 C629.68 361.23 631.53 361.75 633.70 362.80 C635.87 363.85 638.35 365.80 641.00 367.50 C643.65 369.20 647.78 371.91 649.60 373.00 C651.42 374.09 651.16 373.72 651.94 374.06 C652.73 374.40 653.51 374.73 654.30 375.06 C655.09 375.39 655.87 375.70 656.66 376.01 C657.45 376.32 658.24 376.62 659.04 376.92 C659.83 377.21 660.62 377.50 661.42 377.78 C662.21 378.06 663.01 378.33 663.81 378.59 C664.61 378.86 665.40 379.11 666.20 379.36 C667.01 379.61 667.81 379.86 668.61 380.09 C669.41 380.33 670.22 380.56 671.02 380.78 C671.83 381.00 672.63 381.22 673.44 381.43 C674.25 381.64 675.06 381.84 675.87 382.04 C676.68 382.24 677.49 382.43 678.30 382.61 C679.11 382.80 679.93 382.98 680.74 383.15 C681.55 383.33 682.37 383.49 683.19 383.66 C684.00 383.82 684.82 383.98 685.64 384.13 C686.46 384.28 687.28 384.43 688.10 384.57 C688.92 384.71 689.74 384.85 690.56 384.98 C691.38 385.11 692.21 385.24 693.03 385.36 C693.85 385.49 694.68 385.60 695.50 385.72 C696.33 385.83 697.16 385.94 697.98 386.05 C698.81 386.15 699.64 386.25 700.47 386.35 C701.30 386.45 702.13 386.54 702.96 386.63 C703.79 386.72 704.62 386.80 705.45 386.89 C706.28 386.97 707.12 387.05 707.95 387.12 C708.78 387.20 709.62 387.27 710.45 387.34 C711.29 387.41 712.12 387.48 712.96 387.54 C713.79 387.61 714.63 387.67 715.47 387.73 C716.30 387.78 717.14 387.84 717.98 387.89 C718.82 387.95 719.66 388.00 720.50 388.05 C721.34 388.10 722.18 388.14 723.02 388.19 C723.86 388.23 724.70 388.28 725.54 388.32 C726.38 388.36 727.22 388.40 728.06 388.44 C728.91 388.48 729.75 388.51 730.59 388.55 C731.43 388.58 732.28 388.62 733.12 388.65 C733.96 388.68 734.81 388.72 735.65 388.75 C736.50 388.78 737.34 388.81 738.18 388.84 C739.03 388.87 739.87 388.90 740.72 388.92 C741.56 388.95 742.41 388.98 743.26 389.00 C744.10 389.03 744.95 389.05 745.79 389.08 C746.64 389.10 747.49 389.12 748.33 389.15 C749.18 389.17 750.03 389.19 750.87 389.21 C751.72 389.23 752.56 389.25 753.41 389.27 C754.26 389.29 755.10 389.31 755.95 389.33 C756.80 389.35 757.65 389.37 758.49 389.39 C759.34 389.41 760.19 389.42 761.03 389.44 C761.88 389.46 762.73 389.47 763.57 389.49 C764.42 389.51 765.27 389.52 766.11 389.54 C766.96 389.56 767.81 389.57 768.65 389.59 C769.50 389.60 770.34 389.62 771.19 389.63 C772.04 389.65 772.88 389.66 773.73 389.68 C774.57 389.69 775.42 389.71 776.26 389.72 C777.11 389.74 777.95 389.75 778.80 389.77 C779.64 389.78 780.49 389.80 781.33 389.81 C782.17 389.83 783.02 389.84 783.86 389.86 C784.70 389.87 785.55 389.89 786.39 389.90 C787.23 389.92 788.07 389.94 788.92 389.95 C789.76 389.97 790.60 389.99 791.44 390.00 C792.28 390.02 793.12 390.04 793.96 390.06 C794.80 390.08 795.64 390.09 796.48 390.11 C797.32 390.13 798.16 390.15 798.99 390.17 C799.83 390.19 800.67 390.21 801.51 390.23 C802.34 390.26 803.18 390.28 804.02 390.30 C804.85 390.32 805.69 390.35 806.52 390.37 C807.35 390.40 808.19 390.42 809.02 390.45 C809.85 390.47 810.69 390.50 811.52 390.53 C812.35 390.55 813.18 390.58 814.01 390.61 C814.84 390.64 816.08 390.69 816.50 390.70" fill="none" stroke="#0000ff" stroke-width="3.90" stroke-linejoin="round" />
<line x1="566.00" y1="116.30" x2="564.60" y2="571.00" stroke="#ff0000" stroke-width="2.40" stroke-dasharray="11.1 7.35"/>
<line x1="588.20" y1="257.20" x2="587.10" y2="473.60" stroke="#7400a2" stroke-width="2.40" stroke-dasharray="11.1 7.34"/>
<path d="M566.00 114.40 V116.50" stroke="#ff0000" stroke-width="2.40"/>
<line x1="183.0" y1="392.90" x2="827.7" y2="392.90" stroke="#999" stroke-opacity="0.62" stroke-width="1.1"/>
<line x1="501.5" y1="157" x2="594.1" y2="230.9" stroke="#000" stroke-width="2.3"/>
<rect x="183.00" y="1.20" width="644.70" height="645.10" fill="none" stroke="#666" stroke-width="1.3"/>
<path d="M205.41 646.30 v-3.70 M205.41 1.20 v3.70 M230.86 646.30 v-3.70 M230.86 1.20 v3.70 M256.30 646.30 v-6.30 M256.30 1.20 v6.30 M281.75 646.30 v-3.70 M281.75 1.20 v3.70 M307.19 646.30 v-3.70 M307.19 1.20 v3.70 M332.63 646.30 v-3.70 M332.63 1.20 v3.70 M358.08 646.30 v-6.30 M358.08 1.20 v6.30 M383.53 646.30 v-3.70 M383.53 1.20 v3.70 M408.97 646.30 v-3.70 M408.97 1.20 v3.70 M434.41 646.30 v-3.70 M434.41 1.20 v3.70 M459.86 646.30 v-6.30 M459.86 1.20 v6.30 M485.31 646.30 v-3.70 M485.31 1.20 v3.70 M510.75 646.30 v-3.70 M510.75 1.20 v3.70 M536.19 646.30 v-3.70 M536.19 1.20 v3.70 M561.64 646.30 v-6.30 M561.64 1.20 v6.30 M587.09 646.30 v-3.70 M587.09 1.20 v3.70 M612.53 646.30 v-3.70 M612.53 1.20 v3.70 M637.98 646.30 v-3.70 M637.98 1.20 v3.70 M663.42 646.30 v-6.30 M663.42 1.20 v6.30 M688.87 646.30 v-3.70 M688.87 1.20 v3.70 M714.31 646.30 v-3.70 M714.31 1.20 v3.70 M739.75 646.30 v-3.70 M739.75 1.20 v3.70 M765.20 646.30 v-6.30 M765.20 1.20 v6.30 M790.65 646.30 v-3.70 M790.65 1.20 v3.70 M816.09 646.30 v-3.70 M816.09 1.20 v3.70 M183.00 629.15 h3.70 M827.70 629.15 h-3.70 M183.00 602.90 h3.70 M827.70 602.90 h-3.70 M183.00 576.65 h3.70 M827.70 576.65 h-3.70 M183.00 550.40 h3.70 M827.70 550.40 h-3.70 M183.00 524.15 h6.30 M827.70 524.15 h-6.30 M183.00 497.90 h3.70 M827.70 497.90 h-3.70 M183.00 471.65 h3.70 M827.70 471.65 h-3.70 M183.00 445.40 h3.70 M827.70 445.40 h-3.70 M183.00 419.15 h3.70 M827.70 419.15 h-3.70 M183.00 392.90 h6.30 M827.70 392.90 h-6.30 M183.00 366.65 h3.70 M827.70 366.65 h-3.70 M183.00 340.40 h3.70 M827.70 340.40 h-3.70 M183.00 314.15 h3.70 M827.70 314.15 h-3.70 M183.00 287.90 h3.70 M827.70 287.90 h-3.70 M183.00 261.65 h6.30 M827.70 261.65 h-6.30 M183.00 235.40 h3.70 M827.70 235.40 h-3.70 M183.00 209.15 h3.70 M827.70 209.15 h-3.70 M183.00 182.90 h3.70 M827.70 182.90 h-3.70 M183.00 156.65 h3.70 M827.70 156.65 h-3.70 M183.00 130.40 h6.30 M827.70 130.40 h-6.30 M183.00 104.15 h3.70 M827.70 104.15 h-3.70 M183.00 77.90 h3.70 M827.70 77.90 h-3.70 M183.00 51.65 h3.70 M827.70 51.65 h-3.70 M183.00 25.40 h3.70 M827.70 25.40 h-3.70" fill="none" stroke="#666" stroke-width="1.3"/>
<text transform="translate(257.10 692.20) scale(1.0000 1.0350)" font-size="39.10" text-anchor="middle" >0.6</text>
<text transform="translate(358.88 692.20) scale(1.0000 1.0350)" font-size="39.10" text-anchor="middle" >0.8</text>
<text transform="translate(460.66 692.20) scale(1.0000 1.0350)" font-size="39.10" text-anchor="middle" >1.0</text>
<text transform="translate(562.44 692.20) scale(1.0000 1.0350)" font-size="39.10" text-anchor="middle" >1.2</text>
<text transform="translate(664.22 692.20) scale(1.0000 1.0350)" font-size="39.10" text-anchor="middle" >1.4</text>
<text transform="translate(766.00 692.20) scale(1.0000 1.0350)" font-size="39.10" text-anchor="middle" >1.6</text>
<text transform="translate(175.60 144.80) scale(1.0000 1.0350)" font-size="39.10" text-anchor="end" >0.10</text>
<text transform="translate(175.60 276.05) scale(1.0000 1.0350)" font-size="39.10" text-anchor="end" >0.05</text>
<text transform="translate(175.60 407.30) scale(1.0000 1.0350)" font-size="39.10" text-anchor="end" >0.00</text>
<text transform="translate(175.60 538.55) scale(1.0000 1.0350)" font-size="39.10" text-anchor="end" >0.05</text>
<text transform="translate(74.40 538.55) scale(1.0000 1.0350)" font-size="39.10" text-anchor="start" >−</text>
<text transform="translate(191.00 50.00) scale(1.0000 1.0000)" font-size="46.40" text-anchor="start" >(a)</text>
<text transform="translate(387.30 149.90) scale(1.0000 1.0350)" font-size="38.10" text-anchor="start" >250 mV</text>
<text transform="translate(626.00 93.60) scale(1.0000 1.0350)" font-size="38.10" text-anchor="start" >400 mV</text>
<text transform="translate(400.50 377.20) scale(1.0000 1.0350)" font-size="38.10" text-anchor="start" >100 mV</text>
<text transform="translate(239.40 751.80) scale(1.0000 1.0000)" font-size="39.10" text-anchor="start" >Excitation</text>
<text transform="translate(432.00 751.80) scale(1.0000 1.0000)" font-size="39.10" text-anchor="start" >frequency</text>
<g fill="none" stroke="#000" stroke-linecap="round" stroke-linejoin="round"><path d="M645.7 726.2 C645.5 724.3 643.7 723.4 642.1 723.6 C639.4 724 637.9 727.2 637.1 731 L632.4 753.5 C631.5 757.8 630.3 761 627.7 761.3 C626.5 761.4 625.7 760.7 625.5 759.6" stroke-width="1.8"/><path d="M637.9 728 L637 732.5 L632.4 754 L631.3 757.5" stroke-width="2.6"/><path d="M637.2 732.5 L632.7 753" stroke-width="3.6"/><path d="M631 734 H643.3" stroke-width="1.6" stroke-linecap="butt"/></g>
<circle cx="645.6" cy="726.8" r="1.9"/><circle cx="625.7" cy="759.1" r="1.9"/>
<text transform="translate(667.30 751.80) scale(1.0000 1.0000)" font-size="39.10" text-anchor="start" >(GHz)</text>
<text  transform="translate(52.40 601.20) rotate(-90) scale(1.0000 1.0000)" font-size="39.10" >DC</text>
<text  transform="translate(52.40 527.20) rotate(-90) scale(1.0000 1.0000)" font-size="39.10" >component</text>
<text  transform="translate(52.40 313.80) rotate(-90) scale(1.0000 1.0000)" font-size="39.10" >of</text>
<text class="se" transform="translate(57.60 261.20) rotate(-90) scale(0.9300 1.0000)" font-size="48.50" font-style="italic">J</text>
<text class="se" transform="translate(61.30 244.60) rotate(-90) scale(1.0000 1.0000)" font-size="28.60" >31</text>
<text class="se" transform="translate(35.40 238.50) rotate(-90) scale(1.0000 1.0000)" font-size="29.00" font-style="italic">s</text>
<text  transform="translate(52.40 192.20) rotate(-90) scale(1.0000 1.0000)" font-size="39.10" >(</text>
<text  transform="translate(52.40 179.20) rotate(-90) scale(1.1400 1.0000)" font-size="39.10" font-style="italic">μ</text>
<text  transform="translate(52.40 156.60) rotate(-90) scale(1.0000 1.0000)" font-size="39.10" >J</text>
<text  transform="translate(52.40 127.30) rotate(-90) scale(1.0000 1.0000)" font-size="39.10" >m</text>
<text  transform="translate(36.00 87.20) rotate(-90) scale(1.0000 1.0000)" font-size="27.30" >−</text>
<text  transform="translate(34.20 70.00) rotate(-90) scale(1.0000 1.0000)" font-size="27.30" >2</text>
<text  transform="translate(52.40 52.90) rotate(-90) scale(1.0000 1.0000)" font-size="39.10" >)</text>
</g>
</svg></body></html>
